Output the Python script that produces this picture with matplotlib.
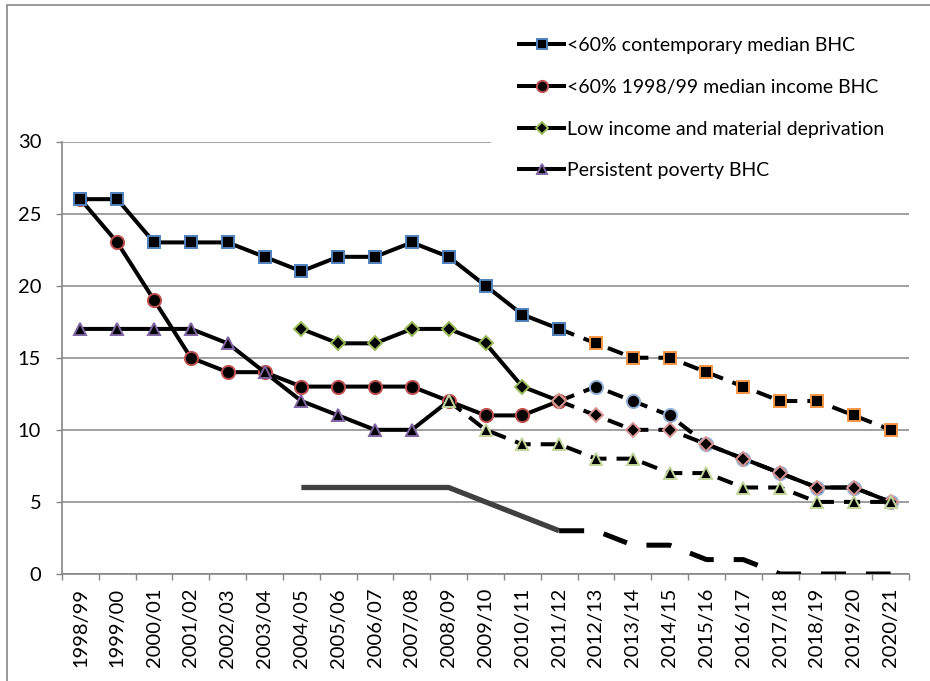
import numpy as np
import matplotlib
matplotlib.use("Agg")
import matplotlib.pyplot as plt
from matplotlib.patches import Rectangle

plt.rcParams['font.family'] = ['Lato', 'DejaVu Sans']

nan = np.nan
categories = ['1998/99', '1999/00', '2000/01', '2001/02', '2002/03', '2003/04',
              '2004/05', '2005/06', '2006/07', '2007/08', '2008/09', '2009/10',
              '2010/11', '2011/12', '2012/13', '2013/14', '2014/15', '2015/16',
              '2016/17', '2017/18', '2018/19', '2019/20', '2020/21']

# actual series
contemporary = [26, 26, 23, 23, 23, 22, 21, 22, 22, 23, 22, 20, 18, 17] + [nan] * 9
fixed_9899 = [26, 23, 19, 15, 14, 14, 13, 13, 13, 13, 12, 11, 11, 12] + [nan] * 9
low_inc_matdep = [nan] * 6 + [17, 16, 16, 17, 17, 16, 13, 12] + [nan] * 9
persistent = [17, 17, 17, 17, 16, 14, 12, 11, 10, 10, 12] + [nan] * 12
grey_series = [nan] * 6 + [6, 6, 6, 6, 6, 5, 4, 3] + [nan] * 9

# trajectories
contemporary_traj = [nan] * 13 + [17, 16, 15, 15, 14, 13, 12, 12, 11, 10]
fixed_traj = [nan] * 13 + [12, 13, 12, 11, 9, 8, 7, 6, 6, 5]
matdep_traj = [nan] * 13 + [12, 11, 10, 10, 9, 8, 7, 6, 6, 5]
persistent_traj = [nan] * 10 + [12, 10, 9, 9, 8, 8, 7, 7, 6, 6, 5, 5, 5]
grey_traj = [nan] * 13 + [3, 3, 2, 2, 1, 1, 0, 0, 0, 0]

labels = ['<60% contemporary median BHC', '<60% 1998/99 median income BHC',
          'Low income and material deprivation', 'Persistent poverty BHC']

W, H = 930, 681
fig = plt.figure(figsize=(W / 100, H / 100), dpi=100)
ax = fig.add_axes([62 / W, 1 - 574 / H, (909 - 62) / W, (574 - 141.5) / H])

x = np.arange(len(categories))
LW = 2.9
DASH = (0, (4, 2.5))
GRID = '#868686'

def arr(v):
    return np.array(v, dtype=float)

# grey thick line (no markers)
ax.plot(x, arr(grey_series), color='#404040', lw=3.8, solid_capstyle='butt', zorder=3)
ax.plot(x, arr(grey_traj), color='black', lw=3.6, linestyle=(0, (5, 4)), zorder=3)

# trajectories (dashed)
ax.plot(x, arr(contemporary_traj), color='black', lw=LW, linestyle=DASH, marker='s', ms=8.6,
        mfc='black', mec='#f79646', mew=1.4, zorder=4)
fixed_t = arr(fixed_traj)
fixed_dash = fixed_t.copy(); fixed_dash[18:] = nan
fixed_solid = fixed_t.copy(); fixed_solid[:17] = nan
ax.plot(x, fixed_dash, color='black', lw=LW, linestyle=DASH, zorder=4)
ax.plot(x, fixed_solid, color='black', lw=LW, zorder=4)
ax.plot(x, fixed_t, linestyle='none', marker='o', ms=9.5,
        mfc='black', mec='#95b3d7', mew=1.4, zorder=4)
ax.plot(x, arr(matdep_traj), color='black', lw=LW, linestyle=DASH, marker='D', ms=7.2,
        mfc='black', mec='#d99694', mew=1.4, zorder=5)
ax.plot(x, arr(persistent_traj), color='black', lw=LW, linestyle=DASH, marker='^', ms=8.6,
        mfc='black', mec='#c3d69b', mew=1.4, zorder=6)

# actual series (solid)
h1, = ax.plot(x, arr(contemporary), color='black', lw=LW, marker='s', ms=8.6,
              mfc='black', mec='#4f81bd', mew=1.4, zorder=7)
h2, = ax.plot(x, arr(fixed_9899), color='black', lw=LW, marker='o', ms=9.5,
              mfc='black', mec='#c0504d', mew=1.4, zorder=4.5)
h3, = ax.plot(x, arr(low_inc_matdep), color='black', lw=LW, marker='D', ms=7.2,
              mfc='black', mec='#9bbb59', mew=1.4, zorder=4.6)
h4, = ax.plot(x, arr(persistent), color='black', lw=LW, marker='^', ms=8.6,
              mfc='black', mec='#8064a2', mew=1.4, zorder=4.7)

ax.set_xlim(-0.5, len(categories) - 0.5)
ax.set_ylim(0, 30)
ax.set_yticks(np.arange(0, 31, 5))
ax.set_xticks(x)
ax.set_xticklabels(categories, rotation=90, fontsize=14.5)
ax.set_xticks(np.arange(-0.5, len(categories), 1), minor=True)
ax.tick_params(axis='x', which='major', length=0, pad=10)
ax.tick_params(axis='x', which='minor', length=4, width=1, color=GRID, direction='out')
ax.tick_params(axis='y', length=4, width=1, color=GRID, pad=11, labelsize=14.5)
ax.yaxis.grid(True, color=GRID, lw=1.1)
ax.set_axisbelow(True)
for s in ['top', 'right']:
    ax.spines[s].set_visible(False)
for s in ['left', 'bottom']:
    ax.spines[s].set_color(GRID)
    ax.spines[s].set_linewidth(1.2)

leg = ax.legend([h1, h2, h3, h4], labels, loc='upper left',
                bbox_to_anchor=(491 / W, 1 - 9 / H), bbox_transform=fig.transFigure,
                borderaxespad=0, borderpad=1.45, fontsize=14, handlelength=2.3,
                handletextpad=0.15, labelspacing=1.27, frameon=True, fancybox=False,
                markerscale=0.85)
leg.get_frame().set_facecolor('white')
leg.get_frame().set_edgecolor('none')
leg.get_frame().set_alpha(1)
leg.set_zorder(10)

# outer chart border (top and left visible)
fig.add_artist(Rectangle((7 / W, -0.2), 1.2, 1.2 - 5 / H, transform=fig.transFigure,
                         fill=False, edgecolor=GRID, lw=1.2))

fig.savefig('out.png', dpi=100)
